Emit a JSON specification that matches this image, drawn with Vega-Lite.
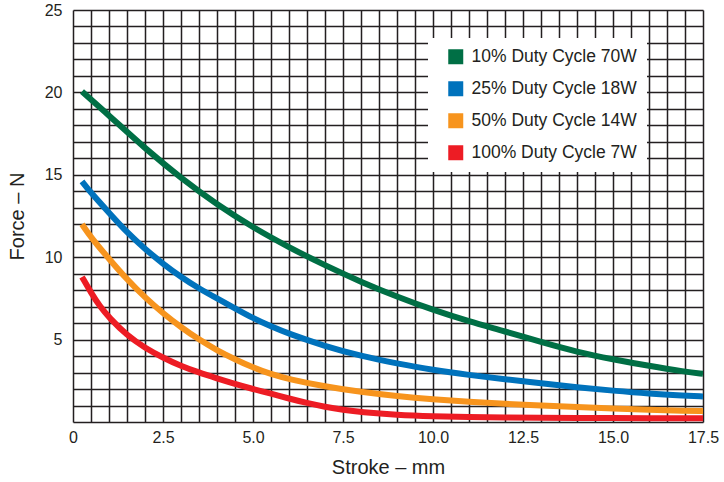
{
  "$schema": "https://vega.github.io/schema/vega-lite/v6.json",
  "width": 630,
  "height": 412,
  "autosize": {"type": "none"},
  "padding": {"left": 73, "top": 10, "right": 21, "bottom": 60},
  "background": "white",
  "config": {
    "view": {"stroke": null},
    "font": "Liberation Sans, Arial, sans-serif",
    "axis": {"labelColor": "#231f20", "titleColor": "#231f20", "titleFontWeight": "normal", "gridColor": "#231f20", "gridOpacity": 1, "gridWidth": 1.5, "ticks": false, "domain": false, "labelFont": "Liberation Sans", "titleFont": "Liberation Sans"},
    "legend": {"labelFont": "Liberation Sans"}
  },
  "data": {"values": [
    {"series": "10% Duty Cycle 70W", "stroke": 0.25, "force": 20.05},
    {"series": "10% Duty Cycle 70W", "stroke": 1, "force": 18.6},
    {"series": "10% Duty Cycle 70W", "stroke": 2, "force": 16.6},
    {"series": "10% Duty Cycle 70W", "stroke": 3, "force": 14.8},
    {"series": "10% Duty Cycle 70W", "stroke": 4, "force": 13.2},
    {"series": "10% Duty Cycle 70W", "stroke": 5, "force": 11.8},
    {"series": "10% Duty Cycle 70W", "stroke": 6, "force": 10.6},
    {"series": "10% Duty Cycle 70W", "stroke": 7, "force": 9.5},
    {"series": "10% Duty Cycle 70W", "stroke": 8, "force": 8.5},
    {"series": "10% Duty Cycle 70W", "stroke": 9, "force": 7.6},
    {"series": "10% Duty Cycle 70W", "stroke": 10, "force": 6.8},
    {"series": "10% Duty Cycle 70W", "stroke": 11, "force": 6.1},
    {"series": "10% Duty Cycle 70W", "stroke": 12, "force": 5.5},
    {"series": "10% Duty Cycle 70W", "stroke": 13, "force": 4.85},
    {"series": "10% Duty Cycle 70W", "stroke": 14, "force": 4.25},
    {"series": "10% Duty Cycle 70W", "stroke": 15, "force": 3.8},
    {"series": "10% Duty Cycle 70W", "stroke": 16, "force": 3.4},
    {"series": "10% Duty Cycle 70W", "stroke": 17, "force": 3.05},
    {"series": "10% Duty Cycle 70W", "stroke": 17.5, "force": 2.92},
    {"series": "25% Duty Cycle 18W", "stroke": 0.25, "force": 14.6},
    {"series": "25% Duty Cycle 18W", "stroke": 0.5, "force": 13.9},
    {"series": "25% Duty Cycle 18W", "stroke": 1, "force": 12.7},
    {"series": "25% Duty Cycle 18W", "stroke": 1.5, "force": 11.5},
    {"series": "25% Duty Cycle 18W", "stroke": 2, "force": 10.5},
    {"series": "25% Duty Cycle 18W", "stroke": 2.5, "force": 9.6},
    {"series": "25% Duty Cycle 18W", "stroke": 3, "force": 8.8},
    {"series": "25% Duty Cycle 18W", "stroke": 3.5, "force": 8.1},
    {"series": "25% Duty Cycle 18W", "stroke": 4, "force": 7.5},
    {"series": "25% Duty Cycle 18W", "stroke": 4.5, "force": 6.9},
    {"series": "25% Duty Cycle 18W", "stroke": 5, "force": 6.3},
    {"series": "25% Duty Cycle 18W", "stroke": 5.5, "force": 5.8},
    {"series": "25% Duty Cycle 18W", "stroke": 6, "force": 5.35},
    {"series": "25% Duty Cycle 18W", "stroke": 7, "force": 4.6},
    {"series": "25% Duty Cycle 18W", "stroke": 8, "force": 4.0},
    {"series": "25% Duty Cycle 18W", "stroke": 9, "force": 3.55},
    {"series": "25% Duty Cycle 18W", "stroke": 10, "force": 3.15},
    {"series": "25% Duty Cycle 18W", "stroke": 11, "force": 2.85},
    {"series": "25% Duty Cycle 18W", "stroke": 12, "force": 2.6},
    {"series": "25% Duty Cycle 18W", "stroke": 13, "force": 2.35},
    {"series": "25% Duty Cycle 18W", "stroke": 14, "force": 2.1},
    {"series": "25% Duty Cycle 18W", "stroke": 15, "force": 1.9},
    {"series": "25% Duty Cycle 18W", "stroke": 16, "force": 1.72},
    {"series": "25% Duty Cycle 18W", "stroke": 17, "force": 1.6},
    {"series": "25% Duty Cycle 18W", "stroke": 17.5, "force": 1.55},
    {"series": "50% Duty Cycle 14W", "stroke": 0.25, "force": 12.0},
    {"series": "50% Duty Cycle 14W", "stroke": 0.5, "force": 11.2},
    {"series": "50% Duty Cycle 14W", "stroke": 1, "force": 9.9},
    {"series": "50% Duty Cycle 14W", "stroke": 1.5, "force": 8.65},
    {"series": "50% Duty Cycle 14W", "stroke": 2, "force": 7.55},
    {"series": "50% Duty Cycle 14W", "stroke": 2.5, "force": 6.6},
    {"series": "50% Duty Cycle 14W", "stroke": 3, "force": 5.75},
    {"series": "50% Duty Cycle 14W", "stroke": 3.5, "force": 5.0},
    {"series": "50% Duty Cycle 14W", "stroke": 4, "force": 4.35},
    {"series": "50% Duty Cycle 14W", "stroke": 4.5, "force": 3.8},
    {"series": "50% Duty Cycle 14W", "stroke": 5, "force": 3.3},
    {"series": "50% Duty Cycle 14W", "stroke": 5.5, "force": 2.9},
    {"series": "50% Duty Cycle 14W", "stroke": 6, "force": 2.6},
    {"series": "50% Duty Cycle 14W", "stroke": 7, "force": 2.15},
    {"series": "50% Duty Cycle 14W", "stroke": 8, "force": 1.82},
    {"series": "50% Duty Cycle 14W", "stroke": 9, "force": 1.57},
    {"series": "50% Duty Cycle 14W", "stroke": 10, "force": 1.38},
    {"series": "50% Duty Cycle 14W", "stroke": 11, "force": 1.23},
    {"series": "50% Duty Cycle 14W", "stroke": 12, "force": 1.1},
    {"series": "50% Duty Cycle 14W", "stroke": 13, "force": 1.0},
    {"series": "50% Duty Cycle 14W", "stroke": 14, "force": 0.9},
    {"series": "50% Duty Cycle 14W", "stroke": 15, "force": 0.82},
    {"series": "50% Duty Cycle 14W", "stroke": 16, "force": 0.74},
    {"series": "50% Duty Cycle 14W", "stroke": 17, "force": 0.68},
    {"series": "50% Duty Cycle 14W", "stroke": 17.5, "force": 0.66},
    {"series": "100% Duty Cycle 7W", "stroke": 0.25, "force": 8.8},
    {"series": "100% Duty Cycle 7W", "stroke": 0.5, "force": 7.85},
    {"series": "100% Duty Cycle 7W", "stroke": 0.75, "force": 7.0},
    {"series": "100% Duty Cycle 7W", "stroke": 1, "force": 6.35},
    {"series": "100% Duty Cycle 7W", "stroke": 1.5, "force": 5.25},
    {"series": "100% Duty Cycle 7W", "stroke": 2, "force": 4.5},
    {"series": "100% Duty Cycle 7W", "stroke": 2.5, "force": 3.9},
    {"series": "100% Duty Cycle 7W", "stroke": 3, "force": 3.4},
    {"series": "100% Duty Cycle 7W", "stroke": 3.5, "force": 3.0},
    {"series": "100% Duty Cycle 7W", "stroke": 4, "force": 2.65},
    {"series": "100% Duty Cycle 7W", "stroke": 4.5, "force": 2.3},
    {"series": "100% Duty Cycle 7W", "stroke": 5, "force": 2.0},
    {"series": "100% Duty Cycle 7W", "stroke": 5.5, "force": 1.72},
    {"series": "100% Duty Cycle 7W", "stroke": 6, "force": 1.42},
    {"series": "100% Duty Cycle 7W", "stroke": 6.5, "force": 1.15},
    {"series": "100% Duty Cycle 7W", "stroke": 7, "force": 0.92},
    {"series": "100% Duty Cycle 7W", "stroke": 7.5, "force": 0.74},
    {"series": "100% Duty Cycle 7W", "stroke": 8, "force": 0.6},
    {"series": "100% Duty Cycle 7W", "stroke": 9, "force": 0.43},
    {"series": "100% Duty Cycle 7W", "stroke": 10, "force": 0.35},
    {"series": "100% Duty Cycle 7W", "stroke": 11, "force": 0.3},
    {"series": "100% Duty Cycle 7W", "stroke": 12, "force": 0.28},
    {"series": "100% Duty Cycle 7W", "stroke": 13, "force": 0.26},
    {"series": "100% Duty Cycle 7W", "stroke": 14, "force": 0.25},
    {"series": "100% Duty Cycle 7W", "stroke": 15, "force": 0.24},
    {"series": "100% Duty Cycle 7W", "stroke": 16, "force": 0.23},
    {"series": "100% Duty Cycle 7W", "stroke": 17, "force": 0.22},
    {"series": "100% Duty Cycle 7W", "stroke": 17.5, "force": 0.22}
  ]},
  "mark": {"type": "line", "strokeWidth": 6, "strokeCap": "butt", "interpolate": "basis", "clip": true},
  "encoding": {
    "x": {
      "field": "stroke", "type": "quantitative",
      "scale": {"domain": [0, 17.5], "nice": false, "zero": false},
      "axis": {
        "values": [0, 0.5, 1, 1.5, 2, 2.5, 3, 3.5, 4, 4.5, 5, 5.5, 6, 6.5, 7, 7.5, 8, 8.5, 9, 9.5, 10, 10.5, 11, 11.5, 12, 12.5, 13, 13.5, 14, 14.5, 15, 15.5, 16, 16.5, 17, 17.5],
        "labelExpr": "datum.value % 2.5 == 0 ? (datum.value == 0 ? '0' : format(datum.value, '.1f')) : ''",
        "labelFontSize": 16, "labelPadding": 7, "labelOverlap": false, "labelFlush": false,
        "title": "Stroke – mm", "titleFontSize": 20, "titlePadding": 12
      }
    },
    "y": {
      "field": "force", "type": "quantitative",
      "scale": {"domain": [0, 25], "nice": false},
      "axis": {
        "values": [0, 1, 2, 3, 4, 5, 6, 7, 8, 9, 10, 11, 12, 13, 14, 15, 16, 17, 18, 19, 20, 21, 22, 23, 24, 25],
        "labelExpr": "datum.value % 5 == 0 && datum.value > 0 ? datum.label : ''",
        "labelFontSize": 16, "labelPadding": 11, "labelOverlap": false, "labelFlush": false,
        "title": "Force – N", "titleFontSize": 20, "titlePadding": 17
      }
    },
    "color": {
      "field": "series", "type": "nominal",
      "scale": {
        "domain": ["10% Duty Cycle 70W", "25% Duty Cycle 18W", "50% Duty Cycle 14W", "100% Duty Cycle 7W"],
        "range": ["#006f45", "#0072bc", "#f7941d", "#ed1c24"]
      },
      "legend": {
        "title": null, "orient": "none", "legendX": 355, "legendY": 28,
        "fillColor": "white", "padding": 10, "symbolOffset": 9,
        "symbolType": "square", "symbolSize": 225, "symbolStrokeWidth": 0,
        "labelFontSize": 17.5, "labelColor": "#231f20", "labelOffset": 7, "rowPadding": 13,
        "labelLimit": 300,
        "labelExpr": "datum.label + '\u00a0\u00a0\u00a0\u00a0'",
        "encode": {"symbols": {"update": {"fill": {"scale": "color", "field": "value"}, "fillOpacity": {"value": 1}}}}
      }
    }
  }
}
